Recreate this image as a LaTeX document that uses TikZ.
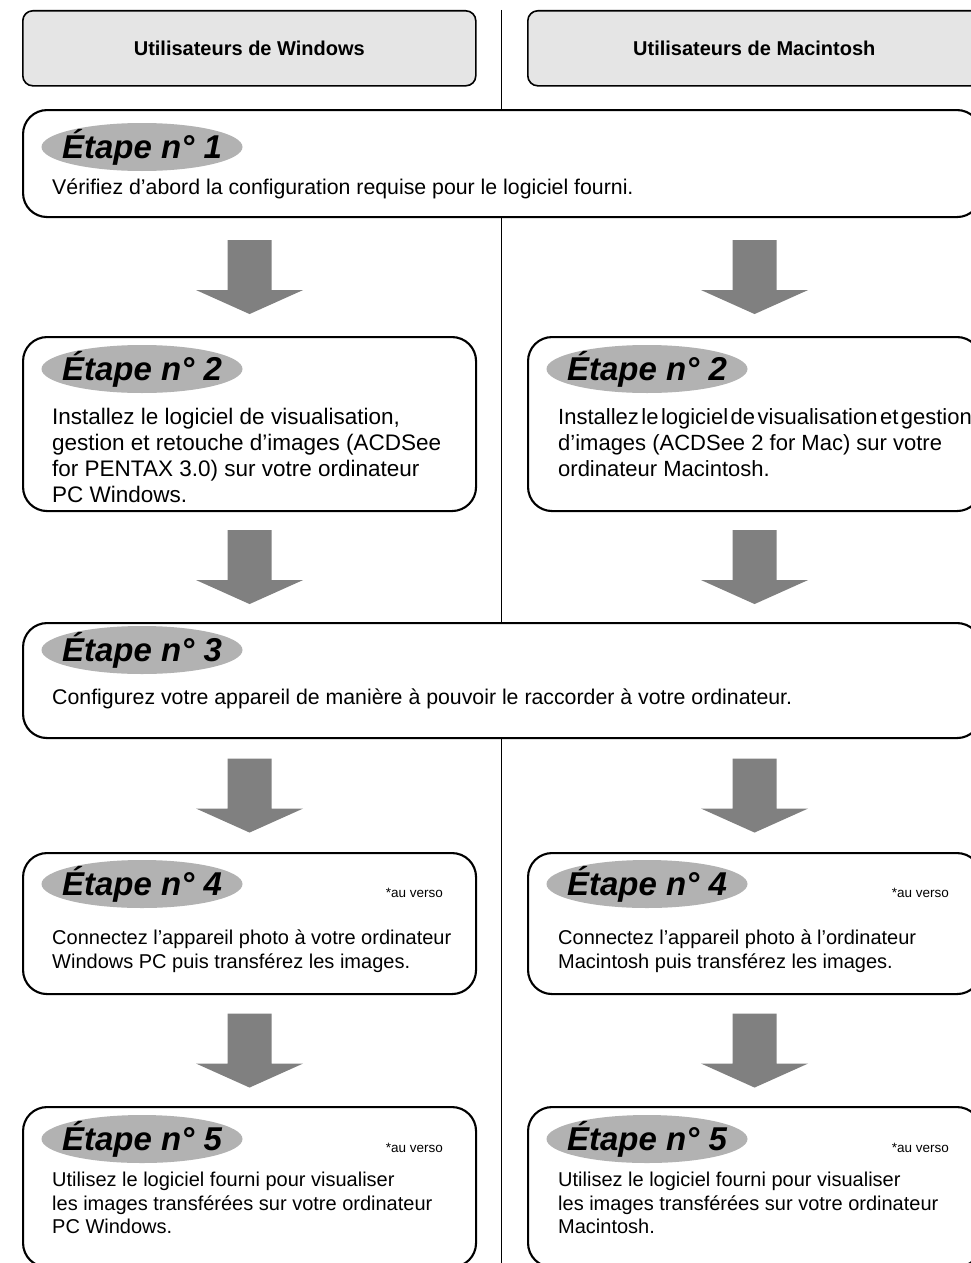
\documentclass[tikz,border=0pt]{standalone}
\usepackage{fontspec}
\setmainfont{Liberation Sans}
\usetikzlibrary{shapes.geometric,positioning,calc}

\begin{document}
\begin{tikzpicture}[
	x=1pt,y=-1pt,
	head/.style={
	  draw,
	  fill=black!10,
	  rounded corners=10pt,
	  line width=1.6pt,
	  anchor=north west,
	  minimum width=453pt,
	  minimum height=75pt,
	  font=\bfseries\fontsize{20}{24}\selectfont
	},
	stepbox/.style={
	  draw,
	  fill=white,
	  rounded corners=24pt,
	  line width=2.1pt,
	  anchor=north west,
	  minimum width=453pt
	},
	etape/.style={
	  ellipse,
	  fill=black!30,
	  minimum width=201pt,
	  minimum height=48pt,
	  inner sep=0pt,
	  label={[inner sep=0pt,font=\bfseries\itshape\fontsize{33}{33}\selectfont]center:#1}
	},
	txt/.style={
	  anchor=north west,
	  inner sep=0pt,
	  align=left,
	  font=\fontsize{20}{23.5}\selectfont
	},
	widetxt/.style={
	  txt,
	  anchor=west,
	  font=\fontsize{21.3}{25}\selectfont
	},
	bigtxt/.style={
	  txt,
	  font=\fontsize{22.5}{26}\selectfont
	},
	verso/.style={
	  anchor=east,
	  inner sep=0pt,
	  font=\fontsize{13.5}{16}\selectfont
	},
	bigarrow/.pic={
	  \fill[black!50] (-22,-37) -- (22,-37) -- (22,13) -- (53.5,13)
	    -- (0,37) -- (-53.5,13) -- (-22,13) -- cycle;
	}
]
\useasboundingbox (0,0) rectangle (971,1263);
\clip (0,0) rectangle (971,1263);

% column divider
\coordinate (top) at (501,10);
\coordinate (bot) at (501,1263);
\draw[line width=0.8pt] (top) -- (bot);

% headers
\node[head] (hw) at (22,10) {Utilisateurs de Windows};
\node[head] (hm) at (527,10) {Utilisateurs de Macintosh};

% step 1
\node[stepbox,minimum width=958pt,minimum height=107pt] 
  (s1) at (22,109) {};
\node[etape={Étape n° 1}] (e1) at (142,147) {};
\node[widetxt] (t1) at (52,189)
  {Vérifiez d’abord la configuration requise pour le logiciel fourni.};

% step 2
\node[stepbox,minimum height=174pt] (s2w) at (22,336) {};
\node[stepbox,minimum height=174pt] (s2m) at (527,336) {};
\node[etape={Étape n° 2}] (e2w) at (142,369) {};
\node[etape={Étape n° 2}] (e2m) at (647,369) {};
\node[bigtxt] (t2w) at (52,408)
  {Installez le logiciel de visualisation,\\
   gestion et retouche d’images (ACDSee\\
   for PENTAX 3.0) sur votre ordinateur\\
   PC Windows.};
\node[bigtxt,font=\fontsize{22}{26}\selectfont] (t2m) at (558,408)
  {{\spaceskip=2.5pt Installez le logiciel de visualisation et gestion}\\
   d’images (ACDSee 2 for Mac) sur votre\\
   ordinateur Macintosh.};

% step 3
\node[stepbox,minimum width=958pt,minimum height=115pt] 
  (s3) at (22,622) {};
\node[etape={Étape n° 3}] (e3) at (142,650) {};
\node[widetxt] (t3) at (52,699)
  {Configurez votre appareil de manière à pouvoir le raccorder à votre ordinateur.};

% step 4
\node[stepbox,minimum height=141pt] (s4w) at (22,852) {};
\node[stepbox,minimum height=141pt] (s4m) at (527,852) {};
\node[etape={Étape n° 4}] (e4w) at (142,884) {};
\node[etape={Étape n° 4}] (e4m) at (647,884) {};
\node[verso] (v4w) at (443,893) {*au verso};
\node[verso] (v4m) at (949,893) {*au verso};
\node[txt] (t4w) at (52,930)
  {Connectez l’appareil photo à votre ordinateur\\
   Windows PC puis transférez les images.};
\node[txt] (t4m) at (558,930)
  {Connectez l’appareil photo à l’ordinateur\\
   Macintosh puis transférez les images.};

% step 5
\node[stepbox,minimum height=160pt] (s5w) at (22,1106) {};
\node[stepbox,minimum height=160pt] (s5m) at (527,1106) {};
\node[etape={Étape n° 5}] (e5w) at (142,1139) {};
\node[etape={Étape n° 5}] (e5m) at (647,1139) {};
\node[verso] (v5w) at (443,1148) {*au verso};
\node[verso] (v5m) at (949,1148) {*au verso};
\node[txt] (t5w) at (52,1172)
  {Utilisez le logiciel fourni pour visualiser\\
   les images transférées sur votre ordinateur\\
   PC Windows.};
\node[txt] (t5m) at (558,1172)
  {Utilisez le logiciel fourni pour visualiser\\
   les images transférées sur votre ordinateur\\
   Macintosh.};

% arrows
\pic at ($(s1.south -| s2w.north)!0.5!(s2w.north)$) {bigarrow};
\pic at ($(s1.south -| s2m.north)!0.5!(s2m.north)$) {bigarrow};
\pic at ($(s2w.south)!0.5!(s3.north -| s2w.south)$) {bigarrow};
\pic at ($(s2m.south)!0.5!(s3.north -| s2m.south)$) {bigarrow};
\pic at ($(s3.south -| s4w.north)!0.5!(s4w.north)$) {bigarrow};
\pic at ($(s3.south -| s4m.north)!0.5!(s4m.north)$) {bigarrow};
\pic at ($(s4w.south)!0.5!(s5w.north)$) {bigarrow};
\pic at ($(s4m.south)!0.5!(s5m.north)$) {bigarrow};

\end{tikzpicture}
\end{document}
